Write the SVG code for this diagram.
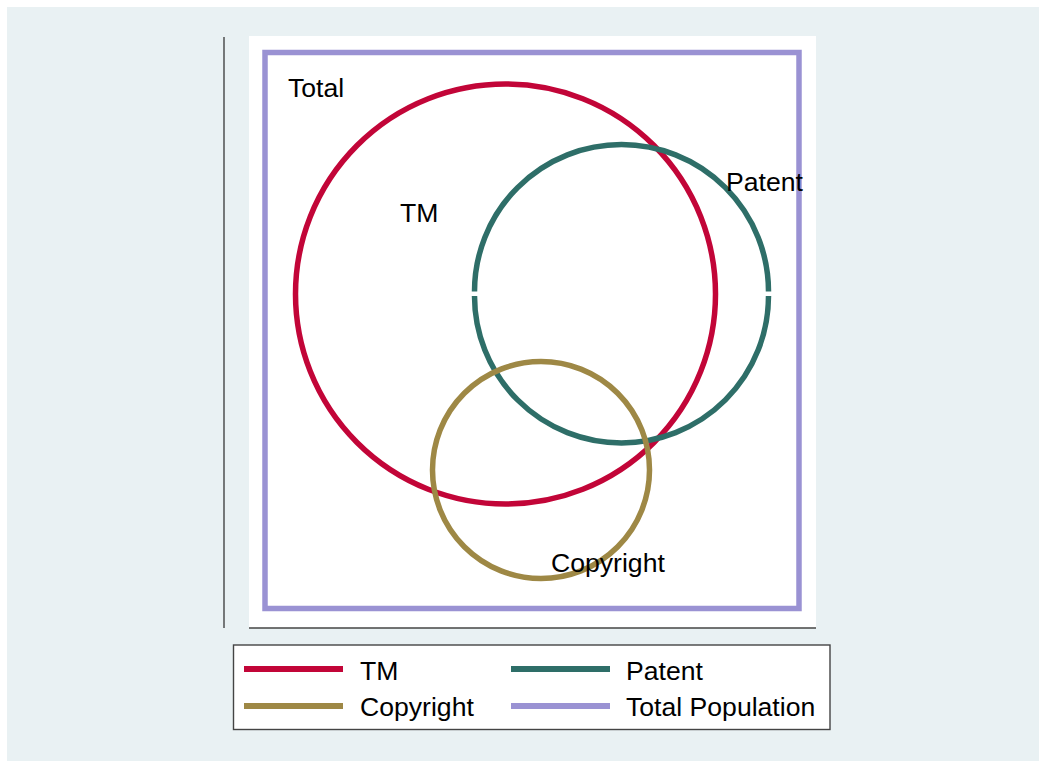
<svg xmlns="http://www.w3.org/2000/svg" width="1039" height="761" viewBox="0 0 1039 761">
  <style>
    .lbl { font-family: "Liberation Sans", Arial, sans-serif; font-size: 26.6px; fill: #000; }
    .ring { fill: none; stroke-width: 5.5; }
    .tm { stroke: #c20538; }
    .patent { stroke: #2e6e68; }
    .copyright { stroke: #9e8845; }
    .total { stroke: #9a92d3; }
    .axis { stroke: #444; stroke-width: 1.4; fill: none; }
    .key { stroke-width: 6; fill: none; }
  </style>

  <!-- page and plot region -->
  <rect x="0" y="0" width="1039" height="761" fill="#ffffff"/>
  <rect x="7" y="7" width="1032" height="754" fill="#e9f1f3"/>
  <rect x="249" y="36" width="567" height="592" fill="#ffffff"/>

  <!-- axes -->
  <g id="axes">
    <line class="axis" x1="224" y1="37" x2="224" y2="628"/>
    <line class="axis" x1="249" y1="628" x2="816" y2="628"/>
  </g>

  <!-- set outlines -->
  <g id="connectors">
    <g id="total-population">
      <rect class="ring total" x="265" y="52.5" width="534" height="556"/>
    </g>
    <g id="tm">
      <circle class="ring tm" cx="505.5" cy="294" r="210"/>
    </g>
    <g id="patent">
      <path class="ring patent" d="M 474.5 291.5 A 147 147 0 0 1 768.5 291.5"/>
      <path class="ring patent" d="M 768.5 296 A 147 147 0 0 1 474.5 296"/>
    </g>
    <g id="copyright">
      <circle class="ring copyright" cx="541" cy="470" r="108.5"/>
    </g>
  </g>

  <!-- set labels -->
  <g id="labels">
    <text class="lbl" x="288" y="97">Total</text>
    <text class="lbl" x="400" y="221.5">TM</text>
    <text class="lbl" x="726" y="191">Patent</text>
    <text class="lbl" x="551" y="572">Copyright</text>
  </g>

  <!-- legend -->
  <g id="legend">
    <rect x="233.5" y="645" width="596.5" height="84.5" fill="#ffffff" stroke="#444" stroke-width="1.4"/>
    <line class="key tm" x1="244" y1="669" x2="343" y2="669"/>
    <text class="lbl" x="360" y="680">TM</text>
    <line class="key patent" x1="511" y1="669" x2="610" y2="669"/>
    <text class="lbl" x="626" y="680">Patent</text>
    <line class="key copyright" x1="244" y1="706" x2="343" y2="706"/>
    <text class="lbl" x="360" y="716">Copyright</text>
    <line class="key total" x1="511" y1="706" x2="610" y2="706"/>
    <text class="lbl" x="626" y="716">Total Population</text>
  </g>
</svg>
